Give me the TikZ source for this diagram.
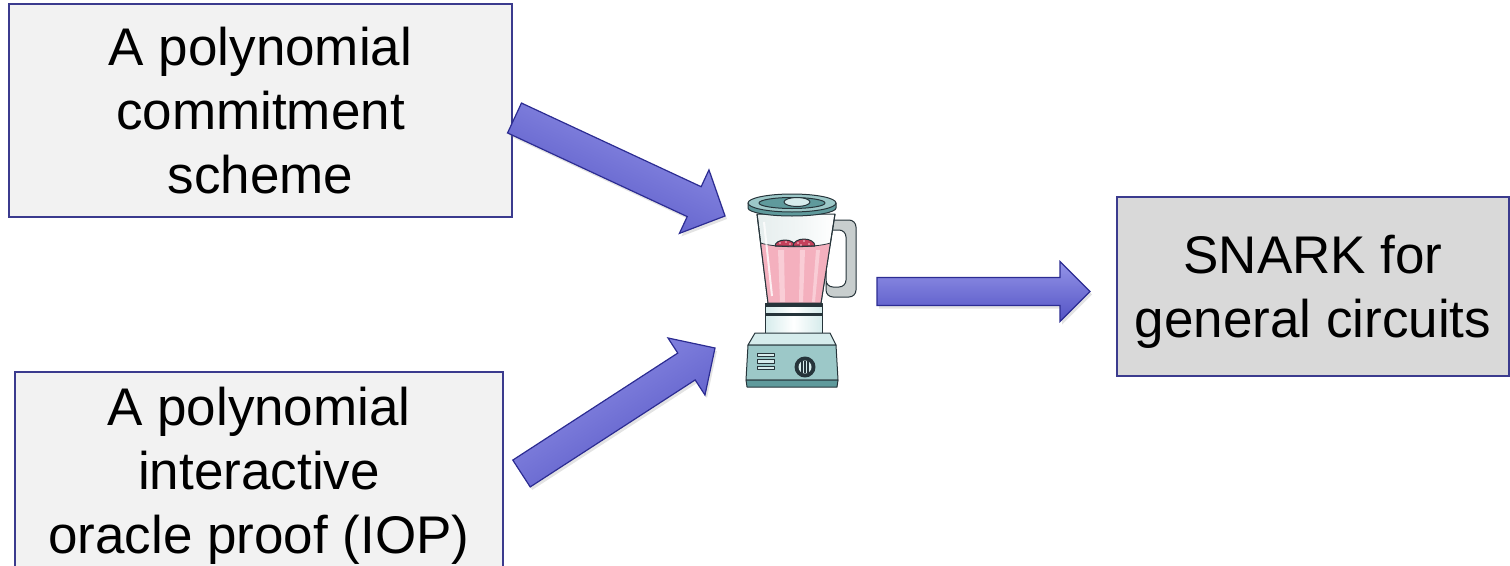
\documentclass[tikz,border=0pt]{standalone}
\usepackage{fontspec}
\setmainfont{Liberation Sans}
\usetikzlibrary{calc,shadows}

\definecolor{boxedge}{HTML}{3B3B8E}
\definecolor{boxfill}{HTML}{F2F2F2}
\definecolor{goalfill}{HTML}{D9D9D9}
\definecolor{arrowtop}{HTML}{9494E8}
\definecolor{arrowbot}{HTML}{5353C4}
\definecolor{arrowedge}{HTML}{2C2C92}
\definecolor{ink}{HTML}{26343A}
\definecolor{teal}{HTML}{9CC8C8}
\definecolor{tealdark}{HTML}{5F9A9C}
\definecolor{teallight}{HTML}{D6ECEC}
\definecolor{glass}{HTML}{E6EEEE}
\definecolor{handle}{HTML}{C8CECE}
\definecolor{juice}{HTML}{F4B0BE}
\definecolor{juicelight}{HTML}{F9CDD6}
\definecolor{berry}{HTML}{C53F5A}

% block arrow from #1 (tail centre) to #2 (tip):
% #3 half shaft width, #4 half head width, #5 head length, #6 shading angle
\newcommand\blockarrow[6]{%
  \path[blockarrow, shading angle=#6]
    ($(#1)!#3!90:(#2)$) --
    ($(#2)!#5!(#1)!#3!-90:(#1)$) --
    ($(#2)!#5!(#1)!#4!-90:(#1)$) --
    (#2) --
    ($(#2)!#5!(#1)!#4!90:(#1)$) --
    ($(#2)!#5!(#1)!#3!90:(#1)$) --
    ($(#1)!#3!-90:(#2)$) -- cycle;}

\begin{document}
\begin{tikzpicture}[x=1pt,y=-1pt,
  box/.style={draw=boxedge, line width=1.5pt, fill=boxfill, align=center,
    font=\fontsize{53}{64}\selectfont, inner sep=0pt, text depth=0pt},
  blockarrow/.style={draw=arrowedge, line width=1.2pt, line join=miter,
    top color=arrowtop, bottom color=arrowbot,
    drop shadow={opacity=0.22, shadow xshift=2pt, shadow yshift=-3pt}},
  outl/.style={draw=ink, line width=1pt, line join=round}]

\clip (0,0) rectangle (1510,565);

% ---- the three text boxes ----
\node[box, minimum width=503pt, minimum height=213pt] (pcs) at (260.5,110.5)
  {A polynomial\\commitment\\scheme};
\node[box, minimum width=488pt, minimum height=196pt] (iop) at (259,470)
  {A polynomial\\interactive\\oracle proof (IOP)};
\node[box, fill=goalfill, minimum width=392pt, minimum height=179pt] (snark) at (1313,286.5)
  {SNARK for\\general circuits};

% ---- the blender ----
% handle
\path[outl, fill=handle, even odd rule, rounded corners=7pt]
  (826,220) -- (856,220) -- (856,297) -- (826,297) -- cycle
  (826,230) -- (846,230) -- (846,287) -- (826,287) -- cycle;
% jar glass
\path[outl, left color=glass, right color=white, middle color=glass!60]
  (757,214) -- (768,303) -- (821,303) -- (835,214) -- cycle;
% juice
\path[fill=juice] (760.6,243) .. controls (775,248) and (815,248) .. (830.4,243)
  -- (821,303) -- (768,303) -- cycle;
\fill[juicelight] (778,250) -- (784,250) -- (785,302) -- (780,302) -- cycle;
\fill[juicelight] (800,250) -- (805,250) -- (803,302) -- (799,302) -- cycle;
\fill[juicelight] (816,250) -- (820,250) -- (815,302) -- (812,302) -- cycle;
% strawberries on the surface
\path[outl, fill=berry] (775,246) arc[start angle=180, end angle=0, x radius=10pt, y radius=6pt] -- cycle;
\path[outl, fill=berry] (793,246) arc[start angle=180, end angle=0, x radius=11pt, y radius=7pt] -- cycle;
\foreach \p in {(780,243),(786,242),(790,244),(798,243),(804,241),(809,244),(801,245)}
  \fill[juicelight] \p circle (0.9pt);
% surface line and jar outline again
\draw[ink, line width=0.8pt] (760.6,243) .. controls (775,248) and (815,248) .. (830.4,243);
\draw[outl] (757,214) -- (768,303) -- (821,303) -- (835,214);
\draw[white, line width=2pt, opacity=0.8] (764,222) -- (772,296);
% lid
\path[outl, fill=tealdark] (748,203) -- (748,208) arc[start angle=180, end angle=360, x radius=44pt, y radius=8pt]
  -- (836,203) -- cycle;
\path[outl, fill=teal] (792,203) ellipse[x radius=44pt, y radius=9pt];
\path[outl, fill=tealdark] (792,203) ellipse[x radius=33pt, y radius=5.5pt];
\path[outl, fill=teallight] (797,202) ellipse[x radius=13pt, y radius=4.5pt];
% collar
\path[outl, left color=teallight, right color=teallight, middle color=white]
  (765,303) rectangle (822,333);
\fill[ink] (765,303) rectangle (822,307);
\fill[ink] (765,313) rectangle (822,316);
% base
\path[outl, fill=teallight] (755,333) -- (830,333) -- (836,345) -- (748,345) -- cycle;
\path[outl, fill=teal] (748,345) -- (836,345) -- (838,380) -- (746,380) -- cycle;
\path[outl, fill=tealdark] (746,380) -- (838,380) -- (837,387) -- (747,387) -- cycle;
% switches
\foreach \yy in {353,359.5,366}
  \path[outl, fill=teallight, line width=0.8pt] (757,\yy) rectangle (774,\yy+3.5);
% dial
\path[outl, fill=ink] (805,367) circle (10pt);
\path[fill=teallight] (805,367) circle (6.5pt);
\foreach \xx in {802,805,808}
  \draw[ink, line width=1.2pt] (\xx,361) -- (\xx,373);

% ---- connectors ----
\coordinate (a1t) at (514.5,118);
\coordinate (a1h) at (725,216);
\coordinate (a2t) at (521.5,473.5);
\coordinate (a2h) at (715,348);
\coordinate (a3t) at (877,291.5);
\coordinate (a3h) at (1090,291.5);
\blockarrow{a1t}{a1h}{16.5pt}{35pt}{34pt}{-25}
\blockarrow{a2t}{a2h}{16pt}{34pt}{34pt}{33}
\blockarrow{a3t}{a3h}{14pt}{30pt}{30pt}{0}
\end{tikzpicture}
\end{document}
